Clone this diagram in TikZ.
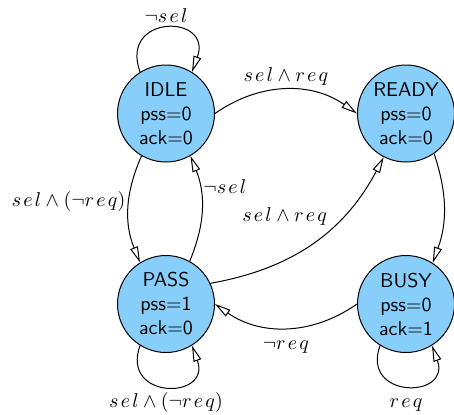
\documentclass[tikz,border=0pt]{standalone}
\usetikzlibrary{arrows.meta}
\definecolor{stfill}{RGB}{135,206,250}
\newcommand\mysel{s\mkern2mu e\mkern2mu l}
\newcommand\myreq{r\mkern2mu e\mkern2mu q}
\begin{document}
\begin{tikzpicture}[x=0.5pt,y=-0.5pt,
  state/.style={circle,draw=black,fill=stfill,line width=0.5pt,minimum size=48.5pt,inner sep=0pt,align=center,font=\sffamily},
  tr/.style={draw=black,line width=0.5pt,-{Triangle[open,length=8pt,width=4pt]}},
  lbl/.style={inner sep=1.5pt,text height=7.5pt,text depth=2.5pt}]
\useasboundingbox (0,0) rectangle (454,414);
\node[state] (idle)  at (166,113.5) {IDLE\\pss=0\\ack=0};
\node[state] (ready) at (406,113.5) {READY\\pss=0\\ack=0};
\node[state] (pass)  at (166,304)   {PASS\\pss=1\\ack=0};
\node[state] (busy)  at (406,304)   {BUSY\\pss=0\\ack=1};

\draw[tr] (idle.0) to[bend left=35] node[lbl,above]{$\mysel\wedge\myreq$} (ready.180);
\draw[tr] (ready.305) to[bend left=19] (busy.57);
\draw[tr] (busy.180) to[bend left=35] node[lbl,below,inner sep=3pt]{$\neg\myreq$} (pass.0);
\draw[tr] (pass.25) to[bend right=26] node[lbl,anchor=south east,pos=0.6,inner sep=1pt]{$\mysel\wedge\myreq$} (ready.243);
\draw[tr] (idle.240) to[bend right=23] node[lbl,left,pos=0.43]{$\mysel\wedge(\neg\myreq)$} (pass.122);
\draw[tr] (pass.61) to[bend right=22] node[lbl,right,pos=0.7]{$\neg\mysel$} (idle.300);

\draw[tr] (idle.122) .. controls +(110:31pt) and +(70:31pt) .. node[lbl,above,inner sep=0pt,text height=6.9pt]{$\neg\mysel$} (idle.58);
\draw[tr] (pass.238) .. controls +(250:29pt) and +(290:29pt) .. node[lbl,below,inner sep=3pt]{$\mysel\wedge(\neg\myreq)$} (pass.302);
\draw[tr] (busy.238) .. controls +(250:28.5pt) and +(290:28.5pt) .. node[lbl,below,inner sep=3pt]{$\myreq$} (busy.302);
\end{tikzpicture}
\end{document}
